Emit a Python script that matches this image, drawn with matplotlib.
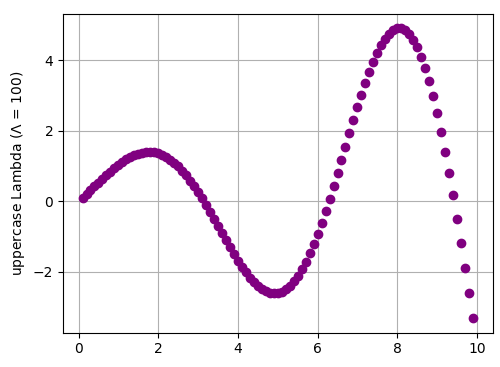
import matplotlib
matplotlib.use("Agg")
import matplotlib.pyplot as plt

# valores
x = [round(0.1 * i, 1) for i in range(1, 100)]
y = [0.1019, 0.2068, 0.3138, 0.4219, 0.5298, 0.6366, 0.7410, 0.8418, 0.9378, 1.0278,
     1.1105, 1.1849, 1.2497, 1.3039, 1.3465, 1.3765, 1.3932, 1.3958, 1.3838, 1.3565,
     1.3138, 1.2554, 1.1813, 1.0916, 0.9867, 0.8671, 0.7334, 0.5865, 0.4273, 0.2571,
     0.0773, -0.1107, -0.3052, -0.5044, -0.7064, -0.9091, -1.1105, -1.3083, -1.5004, -1.6843,
     -1.8579, -2.0189, -2.1651, -2.2942, -2.4043, -2.4935, -2.5598, -2.6017, -2.6177, -2.6066,
     -2.5675, -2.4995, -2.4022, -2.2755, -2.1196, -1.9348, -1.7219, -1.4820, -1.2167, -0.9277,
     -0.6170, -0.2871, 0.0593, 0.4192, 0.7893, 1.1662, 1.5461, 1.9252, 2.2992, 2.6642,
     3.0158, 3.3499, 3.6619, 3.9479, 4.2038, 4.4256, 4.6094, 4.7519, 4.8498, 4.9003,
     4.9009, 4.8496, 4.7448, 4.5854, 4.3709, 4.1013, 3.7772, 3.3998, 2.9710, 2.4932,
     1.9695, 1.4034, 0.7994, 0.1624, -0.5024, -1.1891, -1.8911, -2.6018, -3.3138]

fig, ax = plt.subplots(figsize=(5, 3.67), dpi=100)
ax.plot(x, y, "o", color="purple")
ax.set_ylabel(r"uppercase Lambda ($\Lambda$ = 100)")
ax.grid(True)
fig.subplots_adjust(left=0.126, right=0.985, top=0.962, bottom=0.094)
fig.savefig("out.png")
